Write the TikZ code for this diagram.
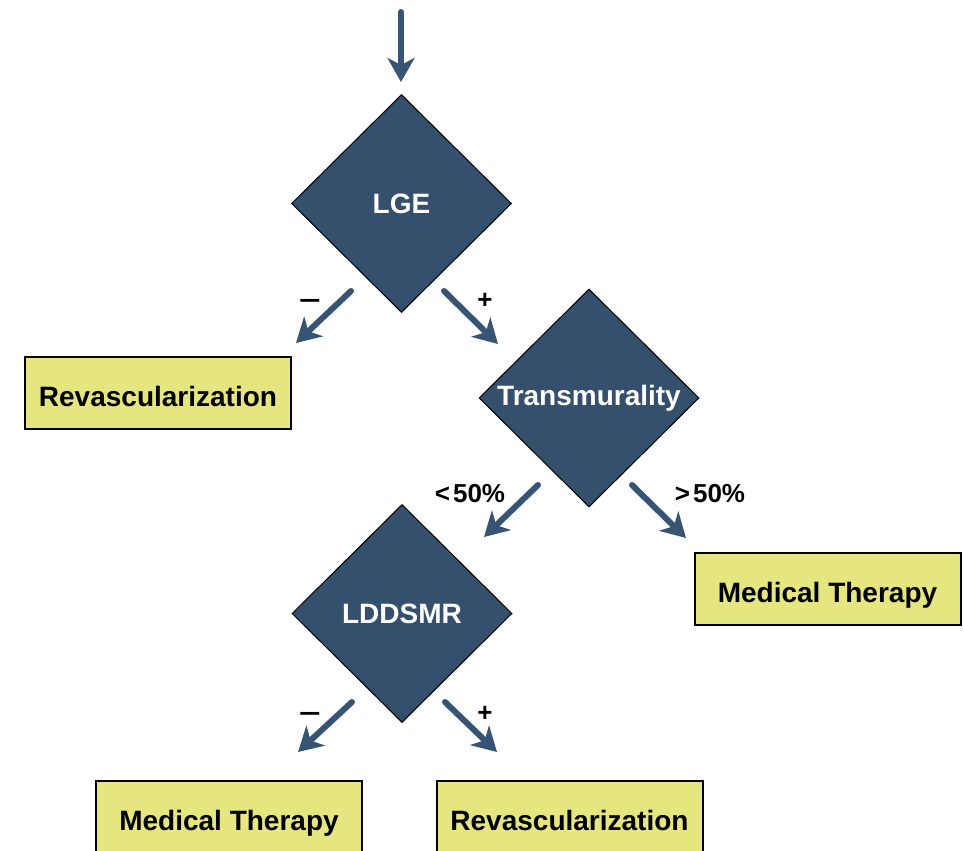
\documentclass[tikz,border=0pt]{standalone}
\usepackage{fontspec}
\setmainfont{Liberation Sans}
\usetikzlibrary{shapes.geometric,arrows.meta}
\definecolor{dnavy}{HTML}{34506C}
\definecolor{anavy}{HTML}{365575}
\definecolor{byellow}{HTML}{E6E680}
\begin{document}
\begin{tikzpicture}[x=1pt,y=-1pt,
  dec/.style={diamond, draw=black, line width=1pt, fill=dnavy, minimum width=220pt, minimum height=218pt, inner sep=0pt, text=white, font=\fontsize{28}{32}\selectfont\bfseries},
  res/.style={rectangle, draw=black, line width=2pt, fill=byellow, minimum width=266pt, minimum height=72pt, inner sep=0pt, text height=26pt, text depth=0pt, font=\fontsize{28}{32}\selectfont\bfseries},
  arr/.style={draw=anavy, line width=6pt, line cap=round, -{Stealth[length=24pt,width=27pt,inset=7pt]}},
  lab/.style={inner sep=0pt, font=\fontsize{26}{30}\selectfont\bfseries}]
\useasboundingbox (0,0) rectangle (964,851);
\fill[white] (0,0) rectangle (964,851);

% decisions
\node[dec] (lge) at (401.5,203.5) {LGE};
\node[dec] (trans) at (589,398) {Transmurality};
\node[dec] (ldd) at (402,613.5) {LDDSMR};

% results
\node[res] (rev1) at (158,393) {Revascularization};
\node[res] (med1) at (827.5,589) {Medical Therapy};
\node[res] (med2) at (229,817) {Medical Therapy};
\node[res] (rev2) at (569.5,817) {Revascularization};

% arrow coordinates
\coordinate (in0) at (401,12);
\coordinate (in1) at (401,82);
\coordinate (a1s) at (351,291);
\coordinate (a1e) at (296,343);
\coordinate (a2s) at (444,291);
\coordinate (a2e) at (498,344);
\coordinate (a3s) at (538,485);
\coordinate (a3e) at (484,537);
\coordinate (a4s) at (632,485);
\coordinate (a4e) at (686,538);
\coordinate (a5s) at (352,702);
\coordinate (a5e) at (298,752);
\coordinate (a6s) at (445,702);
\coordinate (a6e) at (497,752);

\draw[arr] (in0) -- (in1);
\draw[arr] (a1s) -- (a1e);
\draw[arr] (a2s) -- (a2e);
\draw[arr] (a3s) -- (a3e);
\draw[arr] (a4s) -- (a4e);
\draw[arr] (a5s) -- (a5e);
\draw[arr] (a6s) -- (a6e);

% labels
\node[lab] (l1) at (310,304) {\scalebox{1.45}[1]{−}};
\node[lab] (l2) at (485,301) {+};
\node[lab] (l3) at (470,494) {<\hspace{3pt}50\%};
\node[lab] (l4) at (710,494) {>\hspace{3pt}50\%};
\node[lab] (l5) at (310,717) {\scalebox{1.45}[1]{−}};
\node[lab] (l6) at (485,714) {+};
\end{tikzpicture}
\end{document}
